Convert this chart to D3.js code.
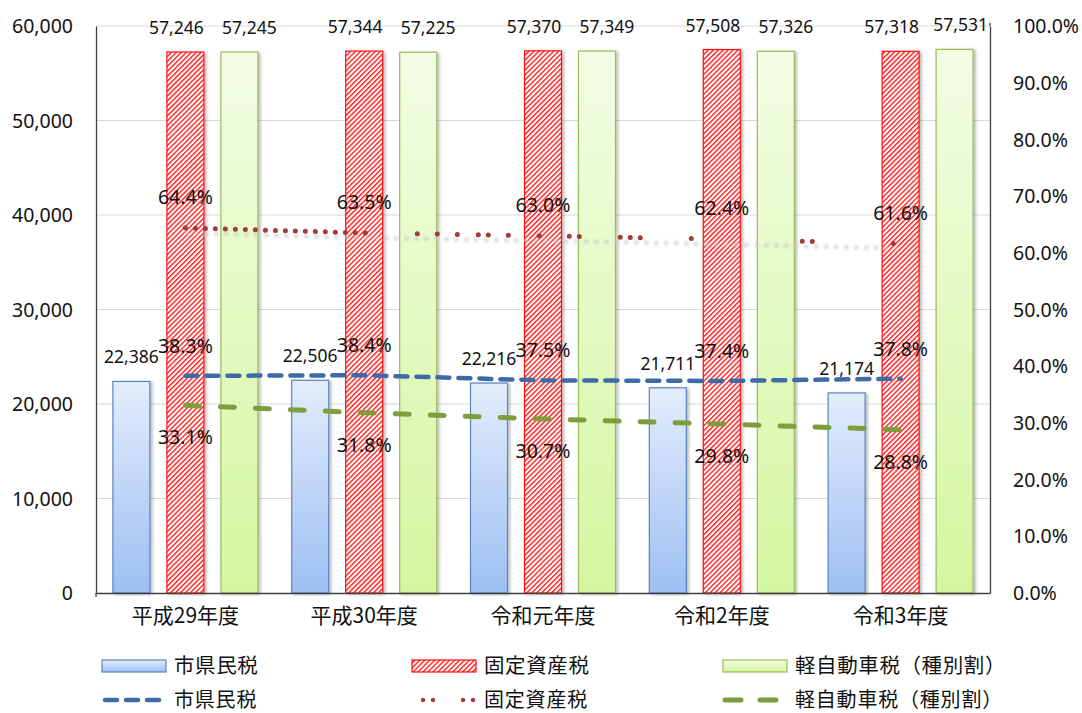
<!DOCTYPE html>
<html lang="ja">
<head>
<meta charset="utf-8">
<script src="https://cdn.jsdelivr.net/npm/d3@7"></script>
<style>
  html, body { margin: 0; padding: 0; background: #fff; }
  svg { display: block; }
  text { font-family: "Noto Sans", "Noto Sans CJK JP", sans-serif; fill: #111; }
  .jp { font-family: "Noto Sans CJK JP", sans-serif; }
</style>
</head>
<body>
<svg id="chart" width="1082" height="713"></svg>
<script>
// 年度
const categories = ["平成29年度", "平成30年度", "令和元年度", "令和2年度", "令和3年度"];
// 税目
const seriesNames = ["市県民税", "固定資産税", "軽自動車税（種別割）"];
// 税額（棒グラフ）
const citizenTax   = [22386, 22506, 22216, 21711, 21174];
const propertyTax  = [57246, 57344, 57370, 57508, 57318];
const lightCarTax  = [57245, 57225, 57349, 57326, 57531];
// 割合（折れ線, %）
const citizenRate  = [38.3, 38.4, 37.5, 37.4, 37.8];
const propertyRate = [64.4, 63.5, 63.0, 62.4, 61.6];
const lightCarRate = [33.1, 31.8, 30.7, 29.8, 28.8];
// 目盛
const leftTicks  = [0, 10000, 20000, 30000, 40000, 50000, 60000];
const rightTicks = [0, 10, 20, 30, 40, 50, 60, 70, 80, 90, 100];

const barSeries  = [citizenTax, propertyTax, lightCarTax];

const svg = d3.select("#chart");
const plot = { left: 96, right: 990, top: 26, bottom: 593 };

const x0 = d3.scaleBand().domain(categories).range([plot.left, plot.right]).padding(0);
const x1 = d3.scaleBand().domain(seriesNames)
  .range([-x0.bandwidth() * 0.453, x0.bandwidth() * 0.453])
  .paddingInner(0.315).paddingOuter(0.1575);
const yL = d3.scaleLinear().domain([0, 60000]).range([plot.bottom, plot.top]);
const yR = d3.scaleLinear().domain([0, 100]).range([plot.bottom, plot.top]);
const cx = c => x0(c) + x0.bandwidth() / 2;

// ---- defs: gradients, hatch, shadows
const defs = svg.append("defs");
const gBlue = defs.append("linearGradient").attr("id", "gBlue").attr("x1", 0).attr("y1", 0).attr("x2", 0).attr("y2", 1);
gBlue.append("stop").attr("offset", "0%").attr("stop-color", "#e3edfc");
gBlue.append("stop").attr("offset", "100%").attr("stop-color", "#9ebff3");
const gGreen = defs.append("linearGradient").attr("id", "gGreen").attr("x1", 0).attr("y1", 0).attr("x2", 0).attr("y2", 1);
gGreen.append("stop").attr("offset", "0%").attr("stop-color", "#f3fde4");
gGreen.append("stop").attr("offset", "100%").attr("stop-color", "#d4f6a0");
const hatch = defs.append("pattern").attr("id", "hatch")
  .attr("patternUnits", "userSpaceOnUse").attr("width", 3.5).attr("height", 3.5)
  .attr("patternTransform", "rotate(45)");
hatch.append("rect").attr("width", 3.5).attr("height", 3.5).attr("fill", "#fff");
hatch.append("rect").attr("width", 1.4).attr("height", 3.5).attr("fill", "#ff1a1a");
const shadow = defs.append("filter").attr("id", "shadow").attr("x", "-20%").attr("y", "-5%").attr("width", "150%").attr("height", "115%");
shadow.append("feDropShadow").attr("dx", 2).attr("dy", 1).attr("stdDeviation", 1.6)
  .attr("flood-color", "#000").attr("flood-opacity", 0.28);
const soft = defs.append("filter").attr("id", "soft");
soft.append("feGaussianBlur").attr("stdDeviation", 0.9);

// ---- gridlines
svg.append("g").selectAll("line").data(leftTicks.filter(t => t > 0)).join("line")
  .attr("x1", plot.left).attr("x2", plot.right)
  .attr("y1", d => yL(d)).attr("y2", d => yL(d))
  .attr("stroke", "#d9d9d9").attr("stroke-width", 1);

// ---- bars
const fills   = ["url(#gBlue)", "url(#hatch)", "url(#gGreen)"];
const strokes = ["#5b86c2", "#ff1010", "#9bbb59"];
const barData = [];
categories.forEach((c, i) => seriesNames.forEach((s, j) => barData.push({ c, s, j, i, v: barSeries[j][i] })));

svg.append("g").selectAll("rect").data(barData).join("rect")
  .attr("x", d => cx(d.c) + x1(d.s))
  .attr("y", d => yL(d.v))
  .attr("width", x1.bandwidth())
  .attr("height", d => yL(0) - yL(d.v))
  .attr("fill", d => fills[d.j])
  .attr("stroke", d => strokes[d.j])
  .attr("stroke-width", 1.2)
  .attr("filter", "url(#shadow)");

// ---- axes
const axisL = d3.axisLeft(yL).tickValues(leftTicks).tickSize(0).tickPadding(23).tickFormat(d3.format(","));
const gL = svg.append("g").attr("transform", `translate(${plot.left},0)`).call(axisL);
const axisR = d3.axisRight(yR).tickValues(rightTicks).tickSize(0).tickPadding(23).tickFormat(d => d.toFixed(1) + "%");
const gR = svg.append("g").attr("transform", `translate(${plot.right},0)`).call(axisR);
const axisB = d3.axisBottom(x0).tickSize(0).tickPadding(19);
const gB = svg.append("g").attr("transform", `translate(0,${plot.bottom})`).call(axisB);
[gL, gR, gB].forEach(g => {
  g.select(".domain").attr("stroke", "#404040").attr("stroke-width", 1.3);
  g.selectAll("text").attr("fill", "#111");
});
gL.selectAll("text").attr("font-family", "'Noto Sans', sans-serif").attr("font-size", 19.5).attr("dy", "0.34em");
gR.selectAll("text").attr("font-family", "'Noto Sans', sans-serif").attr("font-size", 19.5).attr("dy", "0.34em");
gB.selectAll("text").attr("class", "jp").attr("font-size", 21).attr("dy", "0.5em");
// small overhang of the frame lines
svg.append("line").attr("x1", plot.left).attr("x2", plot.left).attr("y1", plot.bottom).attr("y2", plot.bottom + 4).attr("stroke", "#404040").attr("stroke-width", 1.3);
svg.append("line").attr("x1", plot.right).attr("x2", plot.right).attr("y1", plot.top - 3).attr("y2", plot.top).attr("stroke", "#404040").attr("stroke-width", 1.3);

// ---- bar value labels (side labels pushed apart so they don't collide)
const labelShift = [0, -9, 10];
svg.append("g").selectAll("text").data(barData).join("text")
  .attr("x", d => cx(d.c) + x1(d.s) + x1.bandwidth() / 2 + labelShift[d.j] - (d.j === 2 && d.i === categories.length - 1 ? 4 : 0))
  .attr("y", d => yL(d.v) - 18)
  .attr("text-anchor", "middle")
  .attr("font-size", 17.5)
  .text(d => d3.format(",")(d.v));

// ---- rate lines
const lineGen = d3.line().x((d, i) => cx(categories[i])).y(d => yR(d));

// 固定資産税: faint dotted trace plus the red dotted line
svg.append("path").datum(propertyRate)
  .attr("d", lineGen).attr("fill", "none")
  .attr("stroke", "#c8c8c8").attr("stroke-width", 5).attr("stroke-linecap", "round")
  .attr("stroke-dasharray", "0 10").attr("opacity", 0.6)
  .attr("transform", "translate(1,5)").attr("filter", "url(#soft)");
// dot offsets along the line (px from its start)
const propDots = [0,10,20,30,40,50,60,70,80,90,100,110,120,130,140,150,160,170,180,
                  232,252,272,293,303,323,354,384,394,435,445,455,506,617,627,708];
const propDash = [];
propDots.forEach((p, i) => { propDash.push(0); propDash.push(i < propDots.length - 1 ? propDots[i + 1] - p : 2000); });
svg.append("path").datum(propertyRate)
  .attr("d", lineGen).attr("fill", "none")
  .attr("stroke", "#a33b38").attr("stroke-width", 5).attr("stroke-linecap", "round")
  .attr("stroke-dasharray", propDash.join(" "));

// 市県民税: blue dashes
svg.append("path").datum(citizenRate)
  .attr("d", lineGen).attr("fill", "none")
  .attr("stroke", "#3e6aa6").attr("stroke-width", 4.5).attr("stroke-linecap", "round")
  .attr("stroke-dasharray", "12 9");

// 軽自動車税: green long dashes
svg.append("path").datum(lightCarRate)
  .attr("d", lineGen).attr("fill", "none")
  .attr("stroke", "#7e9e3e").attr("stroke-width", 5).attr("stroke-linecap", "round")
  .attr("stroke-dasharray", "14 21");

// ---- rate labels
const rateLabel = (arr, dy) => svg.append("g").selectAll("text").data(arr).join("text")
  .attr("x", (d, i) => cx(categories[i]))
  .attr("y", d => yR(d) + dy)
  .attr("text-anchor", "middle")
  .attr("font-size", 19.5)
  .text(d => d.toFixed(1) + "%");
rateLabel(propertyRate, -24);
rateLabel(citizenRate, -23);
rateLabel(lightCarRate, 39);

// ---- legend
const legend = svg.append("g");
const legX = [102, 412, 723];
const rowBar = 666, rowLine = 700;
seriesNames.forEach((s, j) => {
  legend.append("rect").attr("x", legX[j]).attr("y", rowBar - 6).attr("width", 64).attr("height", 12)
    .attr("fill", fills[j]).attr("stroke", strokes[j]).attr("stroke-width", 1.2);
  legend.append("text").attr("class", "jp").attr("x", legX[j] + 72).attr("y", rowBar).attr("dy", "0.36em")
    .attr("font-size", 20.5).attr("letter-spacing", 0.6).text(s);
  legend.append("text").attr("class", "jp").attr("x", legX[j] + 72).attr("y", rowLine).attr("dy", "0.36em")
    .attr("font-size", 20).attr("letter-spacing", 0.8).text(s);
});
legend.append("line").attr("x1", 105).attr("x2", 166).attr("y1", rowLine).attr("y2", rowLine)
  .attr("stroke", "#3e6aa6").attr("stroke-width", 4.5).attr("stroke-linecap", "round").attr("stroke-dasharray", "12 9");
legend.append("line").attr("x1", 423).attr("x2", 474).attr("y1", rowLine).attr("y2", rowLine)
  .attr("stroke", "#a33b38").attr("stroke-width", 4.5).attr("stroke-linecap", "round").attr("stroke-dasharray", "0 10 0 30 0 10 0 100");
legend.append("line").attr("x1", 725).attr("x2", 776).attr("y1", rowLine).attr("y2", rowLine)
  .attr("stroke", "#7e9e3e").attr("stroke-width", 5).attr("stroke-linecap", "round").attr("stroke-dasharray", "16 19");
</script>
</body>
</html>
